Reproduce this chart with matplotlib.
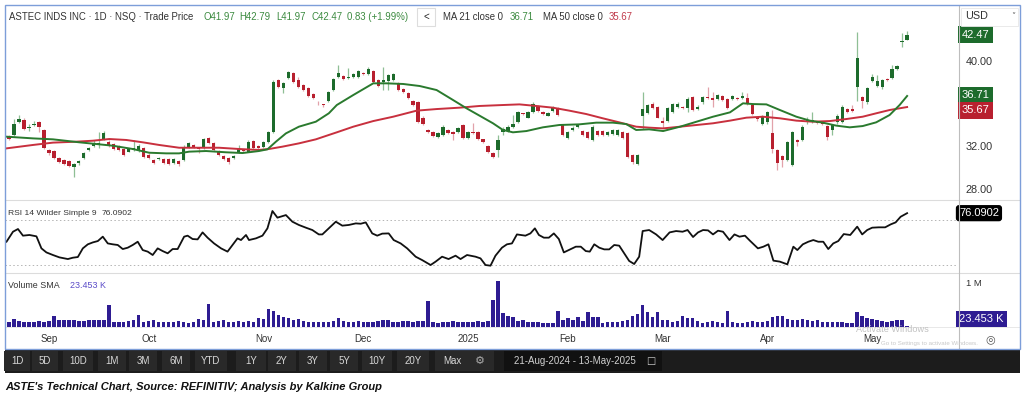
import matplotlib
matplotlib.use("Agg")
import matplotlib.pyplot as plt
from matplotlib.patches import Rectangle
from matplotlib.lines import Line2D
from matplotlib.transforms import blended_transform_factory
import numpy as np

# ---------------- data ----------------
opens = [32.88,33.04,34.29,34.45,33.66,33.98,34.29,33.51,31.62,31.53,
 30.84,30.68,30.59,30.06,30.37,30.90,31.59,32.03,32.10,32.66,
 32.41,32.16,31.94,31.72,31.47,31.59,31.53,31.78,31.15,30.68,
 30.78,30.78,30.78,30.37,30.59,30.68,31.94,32.10,31.84,31.84,
 32.72,32.25,31.53,31.09,30.90,30.84,31.41,31.62,31.47,32.47,
 32.03,31.91,32.41,33.29,38.21,37.43,38.43,38.84,38.21,37.74,
 37.49,36.86,36.17,35.98,36.24,37.27,38.53,38.59,38.37,38.53,
 38.46,38.90,38.75,39.06,38.21,38.06,38.12,38.21,37.90,37.37,
 36.96,36.24,36.11,34.67,33.48,33.35,32.88,33.04,33.51,33.29,
 33.35,33.98,32.79,33.35,33.29,32.63,32.03,31.31,31.62,33.29,
 33.41,33.82,34.29,35.08,34.67,35.17,35.77,35.17,34.86,35.30,
 35.55,34.04,32.79,33.51,33.82,33.41,33.29,32.57,33.41,33.41,
 33.04,33.10,33.04,33.29,33.19,31.15,30.28,34.86,35.08,35.92,
 35.70,34.35,34.35,35.17,35.70,35.70,35.55,36.64,35.48,36.11,
 36.64,36.49,36.43,36.71,36.43,36.43,36.55,36.55,36.55,35.86,
 34.76,34.04,34.23,33.19,31.62,31.09,30.68,30.21,32.57,32.57,
 34.23,34.29,34.29,34.29,33.92,33.51,34.23,34.29,35.45,35.45,
 37.59,36.64,36.11,38.12,37.68,37.59,38.31,38.43,39.22,41.76,
 41.97]
highs = [33.00,34.50,34.90,34.60,34.10,34.35,34.35,33.60,31.75,31.60,
 30.95,30.80,30.70,30.40,30.70,31.45,31.90,32.60,33.35,33.40,
 32.60,32.30,32.05,31.80,31.85,32.60,32.15,31.90,31.30,30.80,
 31.00,30.90,30.90,30.90,30.70,32.05,32.40,32.20,31.95,32.75,
 32.85,32.35,31.60,31.20,31.00,31.20,32.10,31.70,32.55,32.55,
 32.10,32.50,33.40,38.20,38.35,38.06,39.10,38.95,38.50,37.85,
 37.60,36.95,36.20,36.00,37.20,38.40,39.62,38.70,39.30,38.90,
 39.20,39.00,39.40,39.15,38.30,39.40,38.75,38.85,38.00,37.45,
 37.05,36.35,36.20,34.80,33.60,33.45,33.30,33.95,33.60,33.40,
 33.80,34.05,33.45,34.14,33.40,32.70,32.10,31.40,33.00,33.75,
 33.95,34.92,35.30,35.15,35.30,36.10,35.90,35.25,35.20,35.75,
 35.65,34.10,33.45,33.85,34.10,33.50,33.40,33.95,33.50,33.50,
 33.40,33.60,33.60,33.40,33.30,31.25,31.25,37.12,36.00,36.17,
 35.80,34.76,35.65,36.05,36.10,35.80,36.60,36.75,35.85,36.75,
 37.59,37.12,36.90,36.85,36.55,36.85,36.65,37.12,37.00,35.95,
 34.85,34.90,35.30,35.39,31.75,31.20,32.50,33.40,32.65,33.95,
 34.76,35.23,34.40,34.40,34.00,34.10,35.00,35.86,35.55,35.86,
 42.70,36.75,37.55,38.75,38.68,38.30,38.40,39.63,39.65,42.61,
 42.79]
lows = [32.55,32.95,34.20,33.50,33.40,33.90,33.35,31.70,31.20,30.75,
 30.40,30.20,30.05,29.12,30.20,30.80,31.50,31.90,31.80,32.55,
 31.90,31.60,31.50,31.05,31.40,31.50,31.45,30.90,30.80,30.30,
 30.70,30.30,30.25,30.30,30.15,30.60,31.85,31.85,31.30,31.75,
 32.15,31.50,31.05,30.70,30.35,30.75,31.35,31.40,31.40,31.70,
 31.75,31.85,32.30,33.20,37.50,36.96,38.30,37.95,37.50,37.15,
 36.65,36.45,35.86,35.70,36.15,37.20,38.37,38.20,38.30,38.45,
 38.40,38.70,38.65,37.90,37.60,37.27,37.27,38.10,37.15,37.00,
 36.45,35.75,34.20,34.00,33.20,32.85,32.80,32.95,33.10,32.57,
 33.25,32.70,32.70,33.10,32.55,32.30,31.35,30.90,30.95,33.00,
 33.30,33.70,34.20,34.90,34.60,35.10,35.20,34.90,34.80,35.20,
 34.85,32.95,32.70,33.40,33.70,32.95,32.70,32.50,32.95,32.95,
 32.95,33.00,32.95,32.70,30.90,30.35,30.20,33.60,35.00,35.50,
 34.60,33.66,34.25,35.10,35.60,35.45,35.20,35.30,35.40,36.00,
 36.40,35.70,36.35,36.25,35.50,36.35,36.35,36.45,35.85,34.90,
 34.40,33.95,34.10,31.31,29.74,30.00,30.60,30.10,32.00,32.50,
 34.10,34.20,34.05,33.95,32.57,33.00,34.10,34.20,35.10,35.20,
 36.24,35.60,35.95,38.00,37.60,37.40,38.10,38.35,39.15,41.35,
 41.97]
closes = [32.66,34.04,34.54,33.60,33.82,34.10,33.82,31.84,31.31,30.84,
 30.46,30.28,30.15,30.28,30.59,31.37,31.78,32.25,32.25,33.26,
 32.03,31.72,31.62,31.15,31.72,31.78,32.03,31.00,30.90,30.37,
 30.90,30.37,30.34,30.75,30.28,31.94,32.25,31.94,31.72,32.66,
 32.25,31.62,31.15,30.78,30.46,31.09,31.84,31.53,32.41,31.78,
 31.84,32.41,33.29,38.06,37.59,37.90,38.94,38.06,37.59,37.27,
 36.74,36.55,36.10,35.90,37.12,38.31,38.84,38.31,38.53,38.75,
 39.09,38.81,39.25,37.99,37.68,38.21,38.68,38.78,37.27,37.12,
 36.55,35.86,34.29,34.10,33.29,32.97,33.19,33.82,33.19,33.10,
 33.66,32.79,33.35,33.19,32.66,32.41,31.47,31.00,32.57,33.60,
 33.82,34.04,35.17,34.98,35.17,35.95,35.30,34.98,35.08,35.61,
 34.92,33.04,33.35,33.73,33.98,33.04,32.79,33.82,33.04,33.04,
 33.29,33.51,33.51,32.79,31.00,30.46,31.15,35.48,35.86,35.61,
 34.67,34.14,35.55,35.92,35.95,35.55,36.43,35.39,35.70,36.64,
 36.49,36.33,36.80,36.33,35.61,36.74,36.43,36.74,35.92,34.98,
 34.51,34.76,35.17,31.72,30.37,30.68,32.41,33.29,32.35,33.82,
 34.45,34.45,34.14,34.04,32.88,33.98,34.86,35.70,35.17,35.30,
 40.32,36.24,37.43,38.53,38.12,38.21,38.18,39.25,39.56,41.88,
 42.47]

volume_k = [117,180,140,117,117,124,140,124,140,240,
 163,163,163,163,140,140,163,163,163,163,
 505,124,117,124,140,163,270,124,140,163,
 117,124,117,124,140,117,101,117,190,163,
 528,124,140,163,124,124,140,124,140,124,
 200,180,410,370,270,220,194,163,180,140,
 117,117,117,117,124,140,194,140,117,124,
 140,124,124,117,140,170,163,117,124,140,
 140,117,140,140,580,117,101,117,124,140,
 124,124,117,124,140,117,140,605,1045,320,
 240,218,140,163,124,124,124,101,101,85,
 373,163,194,163,218,140,334,218,218,101,
 117,117,117,140,163,241,295,505,350,218,
 334,163,163,117,140,256,194,194,140,101,
 124,140,124,101,373,117,101,101,117,140,
 117,117,140,218,241,241,179,163,163,179,
 163,140,163,117,117,117,117,117,101,101,
 350,241,194,179,163,140,117,140,155,163,
 23.453]

ma21_x = [-0.5,4.8,8.8,14.1,18.1,20.8,24.8,28.1,31.5,34.1,36.1,39.5,43.5,46.8,50.1,51.8,53.5,55.5,58.1,61.5,64.1,
 65.7,69.0,73.0,75.7,79.0,82.3,85.7,89.0,91.7,94.3,97.0,99.0,101.0,103.7,107.0,110.3,114.3,117.7,121.0,123.7,125.7,128.3,
 131.1,134.5,137.8,141.1,144.5,147.1,149.1,151.8,154.5,157.8,160.5,163.1,165.8,168.5,171.1,173.8,176.5,178.5,180.0]
ma21_val = [32.88,32.72,32.63,32.35,32.16,32.03,31.72,31.37,31.31,31.31,31.47,31.53,31.41,31.34,31.53,31.69,32.41,33.19,33.82,34.29,35.08,
 35.86,36.80,37.90,37.90,37.84,37.65,37.27,36.33,35.55,34.86,34.14,33.51,33.29,33.41,33.76,33.98,34.04,34.20,34.20,34.07,33.51,33.57,
 33.41,33.82,34.29,34.76,35.17,36.02,35.95,35.92,35.39,34.76,34.39,34.20,33.92,33.76,33.88,34.23,34.92,35.86,36.71]
ma50_x = [-0.5,4.8,8.8,13.5,16.8,20.1,23.5,26.8,30.1,34.1,38.1,42.1,46.1,50.1,52.1,54.8,58.1,61.5,64.1,
 65.7,69.0,73.0,77.0,81.7,85.7,90.3,94.3,99.0,102.3,105.7,109.0,112.3,115.7,119.0,122.3,125.7,128.3,
 131.1,134.5,137.8,141.1,144.5,147.8,151.1,154.5,157.8,161.1,164.5,167.8,171.1,173.8,176.5,180.0]
ma50_val = [31.78,32.10,32.32,32.41,32.50,32.66,32.57,32.35,32.10,31.84,31.84,31.84,31.72,31.63,31.72,31.94,32.25,32.63,33.04,
 33.29,33.82,34.35,34.76,35.33,35.48,35.61,35.77,35.86,35.92,35.77,35.61,35.33,35.01,34.61,34.23,33.82,33.73,
 33.66,33.82,33.98,34.14,34.39,34.67,34.76,34.61,34.39,34.29,34.35,34.54,34.76,35.08,35.39,35.67]

rsi_x = [-0.5,0.8,1.8,2.8,4.1,5.5,6.5,7.5,8.8,10.1,11.8,12.8,13.8,14.8,15.8,16.8,17.8,18.8,19.8,20.8,
 21.8,22.8,23.8,24.8,25.8,26.8,27.8,28.8,29.8,30.8,31.8,32.8,33.8,35.1,35.8,36.8,37.8,38.8,39.8,41.1,
 42.5,43.8,44.8,45.8,46.5,47.5,48.1,49.5,50.8,51.8,52.8,53.8,55.5,56.8,58.1,59.5,60.8,62.1,62.8,64.1,
 65.5,66.8,68.1,69.5,70.5,71.5,72.8,73.8,74.8,76.1,77.1,78.5,79.8,81.5,82.8,84.5,85.5,86.8,88.1,89.5,
 90.5,91.8,93.5,94.5,95.5,96.5,97.5,98.8,99.8,100.8,101.8,
 103.5,104.5,105.4,106.2,107.2,108.2,109.2,110.2,111.2,112.2,113.6,114.6,115.6,116.4,117.3,118.3,119.3,120.3,121.3,122.3,
 123.3,124.3,125.3,126.3,127.0,128.3,129.7,131.0,132.4,133.7,135.0,136.0,137.1,138.1,139.1,140.1,141.1,142.1,143.1,144.4,
 145.4,146.4,147.5,148.5,150.1,151.2,152.2,153.2,154.5,156.0,157.2,158.0,159.1,160.2,161.2,162.2,163.2,164.2,165.2,166.2,
 167.3,168.6,170.0,171.0,172.0,173.0,174.3,175.6,176.7,177.7,178.7,180.0]
rsi_val = [50.7,59.6,62.0,56.1,56.7,55.5,44.8,41.2,38.9,36.8,35.3,36.5,37.1,44.8,48.4,50.1,51.3,55.2,49.2,48.4,
 47.8,44.2,45.4,47.8,50.7,43.3,41.9,38.9,44.8,42.4,40.4,44.2,44.2,55.2,56.1,53.1,52.8,59.0,54.3,49.2,
 44.8,41.9,47.8,53.7,52.2,56.7,52.2,53.7,56.1,62.6,78.0,72.1,74.4,68.5,65.6,63.2,61.1,57.2,57.2,62.6,
 68.5,65.0,65.6,67.0,66.7,67.9,58.1,56.1,57.9,58.1,52.2,49.2,44.8,37.4,34.4,30.0,33.0,37.4,35.3,38.3,
 35.3,38.9,37.4,35.9,30.0,29.4,38.3,45.4,48.4,49.2,57.2,
 56.1,58.1,62.6,56.7,54.3,54.3,58.1,53.1,41.2,43.3,46.3,46.3,42.4,41.9,48.4,45.4,43.9,43.9,47.8,47.2,
 40.4,33.6,30.9,37.4,60.2,61.1,57.2,52.2,59.0,60.2,59.6,61.1,54.9,59.0,61.1,60.8,57.2,60.5,59.6,52.2,
 57.2,55.2,56.1,51.6,44.8,46.3,48.4,33.9,33.0,30.6,46.3,43.3,48.4,50.7,52.2,50.7,50.7,44.2,49.2,51.3,
 57.5,56.7,64.1,57.2,61.1,63.2,63.5,63.5,66.1,67.9,72.9,76.09]

month_idx = [8, 28, 51, 71, 92, 112, 131, 152, 173]
month_labels = ["Sep", "Oct", "Nov", "Dec", "2025", "Feb", "Mar", "Apr", "May"]
price_ticks = [28, 32, 40]
range_buttons = ["1D", "5D", "10D", "1M", "3M", "6M", "YTD", "1Y", "2Y", "3Y", "5Y", "10Y", "20Y", "Max"]

last_close = 42.47
ma21_last = 36.71
ma50_last = 35.67
rsi_last = 76.0902
vol_last_k = 23.453

# ---------------- styling ----------------
plt.rcParams['font.family'] = ['Liberation Sans', 'DejaVu Sans']
GREEN = '#1d6b2c'
RED = '#b8202f'
GREEN_W = '#8fbf95'
RED_W = '#e2a2aa'
TXT = '#333333'
VOLC = '#2e1c92'

W, H = 1027, 398
fig = plt.figure(figsize=(W / 100, H / 100), dpi=100)
fig.patch.set_facecolor('white')

def X(px): return px / W
def Y(py): return 1 - py / H

def add_ax(x0, y0, x1, y1):
    a = fig.add_axes([X(x0), Y(y1), (x1 - x0) / W, (y1 - y0) / H])
    a.set_facecolor('none')
    for s in a.spines.values():
        s.set_visible(False)
    return a

def frect(x0, y0, x1, y1, fc, ec='none', lw=0, z=1):
    fig.patches.append(Rectangle((X(x0), Y(y1)), (x1 - x0) / W, (y1 - y0) / H,
                                 transform=fig.transFigure, facecolor=fc,
                                 edgecolor=ec, linewidth=lw, zorder=z))

def fline(xs, ys, color, lw=0.8, z=2):
    fig.lines.append(Line2D([X(v) for v in xs], [Y(v) for v in ys],
                            transform=fig.transFigure, color=color, lw=lw, zorder=z))

def ftext(x, y, s, size=7, color=TXT, ha='left', va='center', **kw):
    fig.text(X(x), Y(y), s, fontsize=size, color=color, ha=ha, va=va, **kw)

XL = (-0.8, 190.2)
idx = np.arange(len(opens))
o = np.array(opens); h = np.array(highs); l = np.array(lows); c = np.array(closes)
up = c >= o

# ---------------- price panel ----------------
ax = add_ax(5, 6, 958, 200)
ax.set_xlim(*XL)
ax.set_ylim(26.92, 45.18)
ax.vlines(idx[up], l[up], h[up], color=GREEN_W, lw=0.9, zorder=2)
ax.vlines(idx[~up], l[~up], h[~up], color=RED_W, lw=0.9, zorder=2)
body_lo = np.minimum(o, c)
body_h = np.maximum(np.abs(c - o), 0.07)
ax.bar(idx[up], body_h[up], bottom=body_lo[up], width=0.66, color=GREEN, linewidth=0, zorder=3)
ax.bar(idx[~up], body_h[~up], bottom=body_lo[~up], width=0.66, color=RED, linewidth=0, zorder=3)
ax.plot(ma50_x, ma50_val, color='#c8303e', lw=1.4, zorder=4)
ax.plot(ma21_x, ma21_val, color='#2a7a2e', lw=1.4, zorder=4)
ax.set_xticks([])
ax.yaxis.tick_right()
ax.set_yticks(price_ticks)
ax.set_yticklabels([f"{v:.2f}" for v in price_ticks])
ax.tick_params(axis='y', length=0, pad=5.5, labelsize=7.8, labelcolor=TXT)

bt = blended_transform_factory(ax.transAxes, ax.transData)
def vbox(a, tr, yv, s, fc, dy=0.0):
    a.text(1.004, yv + dy, s, transform=tr, ha='left', va='center', fontsize=8,
           color='white', zorder=6,
           bbox=dict(boxstyle='square,pad=0.3', fc=fc, ec='none'))
vbox(ax, bt, last_close, f"{last_close:.2f}", GREEN)
vbox(ax, bt, ma21_last, f"{ma21_last:.2f}", GREEN, dy=0.1)
vbox(ax, bt, ma50_last, f"{ma50_last:.2f}", RED, dy=-0.32)

# header
HS = 6.9
ftext(9, 17, "ASTEC INDS INC \u00b7 1D \u00b7 NSQ \u00b7 Trade Price", size=HS)
hdr_g = '#3b8a3f'
ftext(203, 17, f"O{opens[-1]:.2f}", size=HS, color=hdr_g)
ftext(239, 17, f"H{highs[-1]:.2f}", size=HS, color=hdr_g)
ftext(276, 17, f"L{lows[-1]:.2f}", size=HS, color=hdr_g)
ftext(311, 17, f"C{closes[-1]:.2f}", size=HS, color=hdr_g)
ftext(347, 17, "0.83 (+1.99%)", size=HS, color=hdr_g)
frect(417, 8, 435, 26, 'white', ec='#dddddd', lw=0.8, z=3)
ftext(426, 17, "<", size=7, ha='center', color='#222222')
ftext(443, 17, "MA 21 close 0", size=HS)
ftext(510, 17, f"{ma21_last:.2f}", size=HS, color=hdr_g)
ftext(543, 17, "MA 50 close 0", size=HS)
ftext(609, 17, f"{ma50_last:.2f}", size=HS, color='#c0394a')

# USD selector
frect(961, 8, 1018, 26, 'white', ec='#e6e6e6', lw=0.6, z=3)
ftext(965, 16, "USD", size=7.8, color='#333333')
ftext(1013, 16, "\u02c5", size=6, color='#555555', ha='center', family=['DejaVu Sans'])

# ---------------- RSI panel ----------------
ar = add_ax(5, 200, 958, 273)
ar.set_xlim(*XL)
ar.set_ylim(22.9, 87.8)
ar.axhline(70, color='#b4b4b4', lw=0.7, ls=(0, (1.5, 2.5)))
ar.axhline(30, color='#b4b4b4', lw=0.7, ls=(0, (1.5, 2.5)))
ar.plot(rsi_x, rsi_val, color='#111111', lw=1.3)
ar.set_xticks([]); ar.set_yticks([])
rt = blended_transform_factory(ar.transAxes, ar.transData)
ar.text(1.001, rsi_last, f"{rsi_last:.4f}", transform=rt, ha='left', va='center',
        fontsize=8, color='white', bbox=dict(boxstyle='round,pad=0.28', fc='#000000', ec='none'))
ftext(8, 213, "RSI 14 Wilder Simple 9", size=6.1)
ftext(102, 213, f"{rsi_last:.4f}", size=6.1)

# ---------------- volume panel ----------------
av = add_ax(5, 273, 958, 327)
av.set_xlim(*XL)
av.set_ylim(0, 1227)
av.bar(idx, volume_k, width=0.7, color=VOLC, linewidth=0)
av.yaxis.tick_right()
av.set_yticks([1000])
av.set_yticklabels(["1 M"])
av.tick_params(axis='y', length=0, pad=6, labelsize=6.8, labelcolor=TXT)
av.set_xticks(month_idx)
av.set_xticklabels(month_labels)
av.tick_params(axis='x', length=0, pad=5, labelsize=7, labelcolor=TXT)
vt = blended_transform_factory(av.transAxes, av.transData)
av.text(1.001, 190, f"{vol_last_k:.3f} K", transform=vt, ha='left', va='center',
        fontsize=8, color='white', bbox=dict(boxstyle='square,pad=0.28', fc=VOLC, ec='none'))
ftext(8, 286, "Volume SMA", size=6.4)
ftext(70, 286, f"{vol_last_k:.3f} K", size=6.4, color='#5a4bc8')

# separators and frame
for yy in (200, 273):
    fline([5, 1019], [yy, yy], '#dcdcdc', lw=0.8)
fline([5, 1019], [327, 327], '#e4e4e4', lw=0.6)
fline([958.5, 958.5], [6, 348], '#bdbdbd', lw=0.8)
frect(4.5, 5, 1020, 349, 'none', ec='#7d9ed9', lw=1.0, z=5)

# settings icon and watermark
ftext(990, 339, "\u25ce", size=8, ha='center', color='#555555', family=['DejaVu Sans'])
ftext(856, 329.5, "Activate Windows", size=6.6, color='#c2c2c2')
ftext(881, 344, "Go to Settings to activate Windows.", size=4.4, color='#c8c8c8')

# ---------------- toolbar ----------------
frect(5, 349, 1020, 373, '#1c1c1c', z=2)
btn_x = [17, 45, 78, 112, 143, 176, 211, 251, 282, 313, 344, 377, 413, 452]
bw = [26, 26, 30, 28, 28, 28, 32, 30, 28, 28, 28, 30, 32, 34]
for bx, lab, w in zip(btn_x, range_buttons, bw):
    frect(bx - w / 2, 351, bx + w / 2, 371, '#292929', z=3)
    ftext(bx, 361, lab, size=7, color='#d8d8d8', ha='center')
frect(467, 351, 494, 371, '#292929', z=3)
ftext(480, 361, "\u2699", size=8, ha='center', color='#aaaaaa', family=['DejaVu Sans'])
frect(504, 351, 662, 371, '#111111', z=3)
ftext(575, 361, "21-Aug-2024 - 13-May-2025", size=7, color='#d0d0d0', ha='center')
ftext(651, 361, "\u25a1", size=7, ha='center', color='#cccccc', family=['DejaVu Sans'])

# caption
ftext(5, 387, "ASTE's Technical Chart, Source: REFINITIV; Analysis by Kalkine Group",
      size=8.0, color='#111111', fontweight='bold', fontstyle='italic')

fig.savefig("out.png", dpi=100, facecolor='white')
